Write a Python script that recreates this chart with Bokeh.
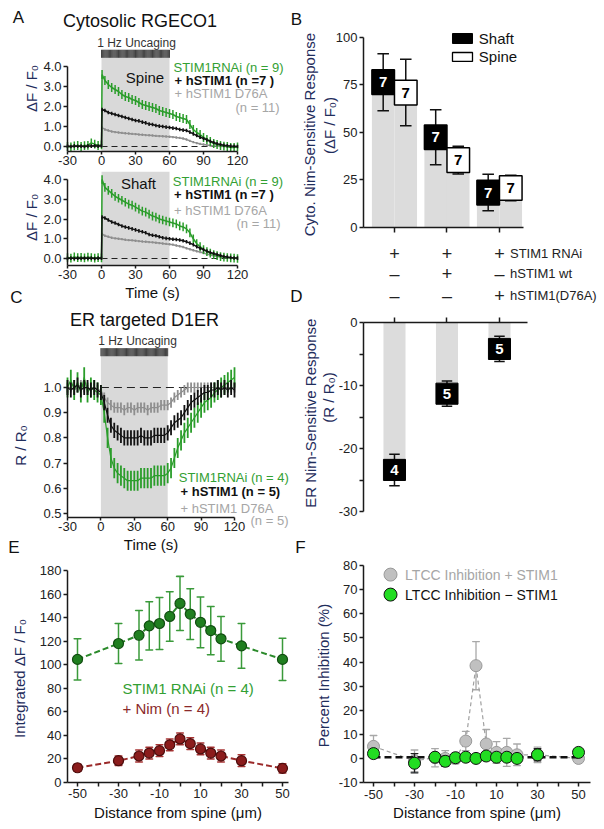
import numpy as np
from bokeh.plotting import figure
from bokeh.layouts import row, column
from bokeh.models import Range1d, FixedTicker, PrintfTickFormatter, Label, ColumnDataSource
from bokeh.core.properties import value
from bokeh.embed import file_html
from bokeh.resources import INLINE

FONT = "Liberation Sans"
AXC = "#1a1a1a"
YLAB = "#1f2d5c"
GREEN = "#2a9d2a"
GREEN_TXT = "#33a033"
GRAY = "#8e8e8e"
GRAY_TXT = "#a6a6a6"
SHADE = "#d9d9d9"

# ---------------- data: panel A (cytosolic RGECO1) ----------------
A_TIME = [-30, -27, -24, -21, -18, -15, -12, -9, -6, -3, 0,
          0.5, 3, 6, 9, 12, 15, 18, 21, 24, 27, 30, 33, 36, 39, 42, 45, 48, 51, 54, 57, 60,
          63, 66, 69, 72, 75, 78, 81, 84, 87, 90, 93, 96, 99, 102, 105, 108, 111, 114, 117, 120]
SPINE_RNAI = [0.0, -0.02, 0.03, 0.05, 0.0, 0.04, 0.06, 0.18, 0.12, 0.05, 0.08,
              3.6, 3.3, 3.1, 2.95, 2.85, 2.75, 2.6, 2.5, 2.45, 2.35, 2.3, 2.2, 2.1, 2.05, 2.0, 1.95,
              1.9, 1.8, 1.75, 1.7, 1.65, 1.6, 1.5, 1.45, 1.4, 1.35, 1.1, 0.85, 0.7, 0.6, 0.45, 0.35,
              0.25, 0.15, 0.1, 0.05, 0.02, 0.0, -0.05, -0.05, -0.02]
SPINE_WT = [0.02, 0.0, 0.03, 0.01, 0.02, 0.0, 0.03, 0.02, 0.04, 0.02, 0.03,
            1.85, 1.8, 1.7, 1.65, 1.6, 1.55, 1.5, 1.45, 1.4, 1.35, 1.3, 1.28, 1.22, 1.18, 1.12, 1.1,
            1.05, 1.02, 1.0, 0.97, 0.95, 0.92, 0.9, 0.85, 0.82, 0.8, 0.72, 0.63, 0.55, 0.47, 0.4,
            0.33, 0.26, 0.2, 0.14, 0.1, 0.06, 0.04, 0.02, 0.01, 0.0]
SPINE_D76A = [0.0, 0.01, 0.0, 0.02, 0.0, 0.01, 0.0, 0.02, 0.01, 0.0, 0.01,
              0.95, 0.85, 0.8, 0.75, 0.72, 0.7, 0.68, 0.66, 0.65, 0.63, 0.62, 0.6, 0.59, 0.57, 0.56,
              0.55, 0.53, 0.52, 0.51, 0.5, 0.49, 0.47, 0.45, 0.43, 0.4, 0.35, 0.28, 0.22, 0.17, 0.13,
              0.1, 0.07, 0.05, 0.03, 0.02, 0.01, 0.0, 0.0, 0.0, 0.0, 0.0]
SHAFT_RNAI = [0.05, 0.02, 0.08, 0.04, 0.06, 0.03, 0.07, 0.05, 0.02, 0.04, 0.03,
              4.0, 3.6, 3.45, 3.3, 3.15, 3.05, 2.95, 2.85, 2.75, 2.7, 2.6, 2.5, 2.4, 2.35, 2.25, 2.15,
              2.1, 2.0, 1.95, 1.9, 1.85, 1.8, 1.75, 1.65, 1.6, 1.5, 1.3, 1.0, 0.75, 0.6, 0.45, 0.35,
              0.27, 0.2, 0.15, 0.1, 0.07, 0.05, 0.03, 0.02, 0.0]
SHAFT_WT = [0.01, 0.02, 0.0, 0.02, 0.01, 0.03, 0.01, 0.02, 0.0, 0.02, 0.01,
            2.1, 2.05, 1.95, 1.85, 1.8, 1.72, 1.65, 1.6, 1.55, 1.5, 1.45, 1.4, 1.35, 1.3, 1.22, 1.18,
            1.15, 1.1, 1.05, 1.02, 1.0, 0.98, 0.96, 0.94, 0.9, 0.85, 0.78, 0.7, 0.6, 0.52, 0.45,
            0.38, 0.3, 0.25, 0.2, 0.15, 0.1, 0.08, 0.05, 0.03, 0.02]
SHAFT_D76A = [0.0, 0.01, 0.02, 0.0, 0.01, 0.0, 0.02, 0.01, 0.0, 0.01, 0.0,
              1.25, 1.15, 1.1, 1.05, 1.02, 1.0, 0.98, 0.95, 0.93, 0.92, 0.9, 0.88, 0.86, 0.85, 0.83,
              0.82, 0.8, 0.78, 0.76, 0.74, 0.72, 0.7, 0.66, 0.62, 0.58, 0.52, 0.47, 0.42, 0.37, 0.33,
              0.28, 0.23, 0.18, 0.14, 0.1, 0.07, 0.05, 0.03, 0.02, 0.01, 0.0]
A_SEM = {"rnai": 0.22, "wt": 0.09, "d76a": 0.06}

# ---------------- data: panel C (ER D1ER) ----------------
C_TIME = [-30, -27, -24, -21, -18, -15, -12, -9, -6, -3, 0, 3, 6, 9, 12, 15, 18, 21, 24, 27, 30,
          33, 36, 39, 42, 45, 48, 51, 54, 57, 60, 63, 66, 69, 72, 75, 78, 81, 84, 87, 90, 93, 96,
          99, 102, 105, 108, 111, 114, 117, 120]
C_RNAI = [1.0, 1.03, 0.99, 1.02, 0.98, 1.04, 0.98, 1.0, 0.99, 0.98,
          0.97, 0.9, 0.8, 0.72, 0.68, 0.66, 0.65, 0.64, 0.63, 0.63, 0.63, 0.63, 0.64, 0.64, 0.64,
          0.64, 0.65, 0.65, 0.65, 0.65, 0.66, 0.68, 0.72, 0.76, 0.79, 0.82, 0.84, 0.86, 0.88, 0.9,
          0.92, 0.94, 0.95, 0.96, 0.98, 0.99, 1.0, 1.01, 1.02, 1.03, 1.04]
C_WT = [1.0, 0.99, 1.0, 1.01, 0.99, 1.0, 1.0, 0.99, 1.0, 0.99,
        0.98, 0.94, 0.89, 0.85, 0.83, 0.82, 0.81, 0.8, 0.8, 0.8, 0.8, 0.8, 0.81, 0.8, 0.8, 0.8,
        0.81, 0.81, 0.81, 0.81, 0.82, 0.84, 0.86, 0.87, 0.88, 0.9, 0.92, 0.94, 0.95, 0.96, 0.97,
        0.98, 0.98, 0.99, 0.99, 1.0, 0.99, 1.0, 0.99, 1.0, 0.99]
C_D76A = [1.0, 1.0, 0.99, 1.0, 1.01, 1.0, 0.99, 1.0, 1.0, 0.99,
          0.99, 0.96, 0.94, 0.93, 0.92, 0.92, 0.92, 0.91, 0.92, 0.92, 0.91, 0.92, 0.92, 0.92, 0.91,
          0.92, 0.92, 0.92, 0.93, 0.93, 0.93, 0.94, 0.96, 0.97, 0.98, 0.99, 1.0, 1.0, 1.0, 1.0,
          1.0, 1.0, 1.0, 1.0, 1.0, 1.0, 1.0, 1.0, 1.0, 1.0, 1.0]
C_NOISE = {"rnai": 0.04, "wt": 0.03, "d76a": 0.02}

STIM_WINDOW = [0, 60]              # uncaging period (s)
UNCAGE_TIMES = list(range(0, 61))  # 1 Hz pulses
BASE_SPAN = [0, 120]

# ---------------- data: panel B ----------------
GROUPS = [1, 2, 3]
B_SHAFT = [76.5, 47.5, 18.4]
B_SHAFT_SEM = [15.0, 14.5, 9.6]
B_SPINE = [71.0, 35.5, 20.8]
B_SPINE_SEM = [17.5, 7.3, 6.7]
B_SHAFT_N = ["7", "7", "7"]
B_SPINE_N = ["7", "7", "7"]
B_ROWS = [("STIM1 RNAi", ["+", "+", "+"]),
          ("hSTIM1 wt", ["\u2013", "+", "\u2013"]),
          ("hSTIM1(D76A)", ["\u2013", "\u2013", "+"])]

# ---------------- data: panel D ----------------
D_MEAN = [-23.4, -11.3, -4.2]
D_SEM = [2.5, 2.0, 2.0]
D_N = ["4", "5", "5"]

# ---------------- data: panel E ----------------
DIST = [-50, -30, -20, -15, -10, -5, 0, 5, 10, 15, 20, 30, 50]
E_RNAI = [104.5, 118, 125, 133, 135, 141, 152, 143, 136, 129, 122, 116, 104.5]
E_RNAI_SEM = [17.5, 17, 21, 20.5, 22, 21, 23, 21.5, 21.5, 20.5, 19, 19, 18]
E_NIM = [12.5, 18.5, 22.5, 25, 27, 32, 37, 33, 28.5, 25, 22.5, 18.5, 12]
E_NIM_SEM = [3, 4, 5, 5, 5, 5, 5, 5, 5, 5, 5, 5, 4]

# ---------------- data: panel F ----------------
F_PLUS = [5.0, -1.0, 0.3, 0.0, 0.0, 7.2, 38.5, 6.0, 2.5, 2.5, 1.5, 1.5, 0.0]
F_PLUS_SEM = [4.5, 4.5, 3.8, 3.2, 2.2, 4.0, 10.0, 6.0, 4.5, 5.8, 4.5, 3.2, 1.5]
F_MINUS = [2.0, -2.0, 0.5, -1.2, 0.3, 0.5, 0.0, 1.0, 0.5, 0.5, 0.0, 1.5, 2.5]
F_MINUS_SEM = [1.5, 4.0, 1.5, 2.0, 1.5, 1.0, 1.0, 1.0, 1.5, 1.5, 1.5, 2.5, 1.0]
F_FIT_X = [-50, 50]
F_FIT_Y = [0.5, 0.5]


# ---------------- helpers ----------------
def make_fig(w, h, xr, yr, xloc="below"):
    p = figure(width=w, height=h, x_range=Range1d(*xr), y_range=Range1d(*yr),
               output_backend="svg", toolbar_location=None, x_axis_location=xloc,
               min_border_left=0, min_border_right=0, min_border_top=0, min_border_bottom=0)
    p.xgrid.visible = False
    p.ygrid.visible = False
    p.outline_line_color = None
    p.background_fill_color = "white"
    p.border_fill_color = "white"
    for ax in (p.xaxis[0], p.yaxis[0]):
        ax.axis_line_color = AXC
        ax.axis_line_width = 1.5
        ax.major_tick_line_color = AXC
        ax.major_tick_line_width = 1.5
        ax.major_tick_in = 0
        ax.major_tick_out = 4
        ax.minor_tick_line_color = None
        ax.major_label_text_font = FONT
        ax.major_label_text_font_size = "13px"
        ax.major_label_text_color = "#222222"
        ax.major_label_standoff = 2
        ax.axis_label_text_font = FONT
        ax.axis_label_text_font_size = "15px"
        ax.axis_label_text_font_style = "normal"
        ax.axis_label_text_color = "#111111"
        ax.axis_label_standoff = 2
    return p


def place_axes(p, x_at, x_bounds, y_at, y_bounds):
    p.xaxis[0].fixed_location = x_at
    p.xaxis[0].bounds = x_bounds
    p.yaxis[0].fixed_location = y_at
    p.yaxis[0].bounds = y_bounds


def txt(p, x, y, text, size=13, color="#111111", align="left", baseline="middle",
        angle=0.0, style="normal"):
    p.add_layout(Label(x=x, y=y, text=text, text_font=FONT, text_font_size=f"{size}px",
                       text_color=color, text_align=align, text_baseline=baseline,
                       angle=angle, text_font_style=style))


def trace(p, t, y, err, color, lw=1.5, elw=1.5):
    lo = [v - err for v in y]
    hi = [v + err for v in y]
    src = ColumnDataSource(dict(t=t, y=y, lo=lo, hi=hi))
    p.segment(x0="t", y0="lo", x1="t", y1="hi", source=src, line_color=color, line_width=elw)
    p.line("t", "y", source=src, line_color=color, line_width=lw)


def stim_marks(p, bottom, shade_top, bar_top):
    p.quad(left=[STIM_WINDOW[0]], right=[STIM_WINDOW[1]], bottom=[bottom], top=[shade_top],
           fill_color=SHADE, line_color=None)
    if bar_top > shade_top:
        p.quad(left=[STIM_WINDOW[0]], right=[STIM_WINDOW[1]], bottom=[shade_top], top=[bar_top],
               fill_color="#b5b5b5", line_color=None)
        p.segment(x0=UNCAGE_TIMES, x1=UNCAGE_TIMES, y0=[shade_top] * len(UNCAGE_TIMES),
                  y1=[bar_top] * len(UNCAGE_TIMES), line_color="#333333", line_width=0.9)


def time_axes(p, yticks, yfmt):
    p.xaxis.ticker = FixedTicker(ticks=[-30, 0, 30, 60, 90, 120])
    p.xaxis.formatter = PrintfTickFormatter(format="%d")
    p.xaxis.major_tick_out = 3
    p.xaxis.major_label_standoff = 1
    p.yaxis.ticker = FixedTicker(ticks=yticks)
    p.yaxis.formatter = PrintfTickFormatter(format=yfmt)


# ---------------- Panel A (top: spine) ----------------
pA1 = make_fig(290, 171, (-89.12, 166.76), (-1.25, 7.3))
time_axes(pA1, [0, 1, 2, 3, 4], "%.1f")
place_axes(pA1, -0.25, (-30, 120), -30, (-0.25, 4))
stim_marks(pA1, -0.25, 4.435, 4.835)
pA1.line(BASE_SPAN, [0, 0], line_color="#222222", line_width=1.2, line_dash="6 4")
trace(pA1, A_TIME, SPINE_D76A, A_SEM["d76a"], GRAY)
trace(pA1, A_TIME, SPINE_RNAI, A_SEM["rnai"], GREEN)
trace(pA1, A_TIME, SPINE_WT, A_SEM["wt"], "#111111")
txt(pA1, -73.2, 6.45, "A", size=17, align="center")
txt(pA1, 34.0, 6.3, "Cytosolic RGECO1", size=18, align="center")
txt(pA1, 30.9, 5.2, "1 Hz Uncaging", size=12, color="#333333", align="center")
txt(pA1, 38.4, 3.43, "Spine", size=15, align="center")
txt(pA1, 63.5, 3.96, "STIM1RNAi (n = 9)", size=13, color=GREEN_TXT)
txt(pA1, 64.4, 3.3, "+ hSTIM1 (n =7 )", size=13, color="#111111", style="bold")
txt(pA1, 64.4, 2.63, "+ hSTIM1 D76A", size=13, color=GRAY_TXT)
txt(pA1, 118.2, 1.97, "(n = 11)", size=13, color=GRAY_TXT)
txt(pA1, -61.8, 2.9, "\u0394F / F\u2080", size=15, color=YLAB, align="center", angle=np.pi / 2)

# ---------------- Panel A (bottom: shaft) ----------------
pA2 = make_fig(290, 137, (-89.12, 166.76), (-2.5312, 4.4056))
time_axes(pA2, [0, 1, 2, 3, 4], "%.1f")
place_axes(pA2, -0.354, (-30, 120), -30, (-0.354, 4))
pA2.xaxis.axis_label = "Time (s)"
stim_marks(pA2, -0.354, 4.4056, 4.4056)
pA2.line(BASE_SPAN, [0, 0], line_color="#222222", line_width=1.2, line_dash="6 4")
trace(pA2, A_TIME, SHAFT_D76A, A_SEM["d76a"], GRAY)
trace(pA2, A_TIME, SHAFT_RNAI, A_SEM["rnai"], GREEN)
trace(pA2, A_TIME, SHAFT_WT, A_SEM["wt"], "#111111")
txt(pA2, 32.6, 3.81, "Shaft", size=15, align="center")
txt(pA2, 62.9, 3.91, "STIM1RNAi (n = 9)", size=13, color=GREEN_TXT)
txt(pA2, 64.0, 3.24, "+ hSTIM1 (n =7 )", size=13, color="#111111", style="bold")
txt(pA2, 64.0, 2.43, "+ hSTIM1 D76A", size=13, color=GRAY_TXT)
txt(pA2, 119.1, 1.76, "(n = 11)", size=13, color=GRAY_TXT)
txt(pA2, -61.8, 2.08, "\u0394F / F\u2080", size=15, color=YLAB, align="center", angle=np.pi / 2)
txt(pA2, -75.0, -1.97, "C", size=17, align="center")

# ---------------- Panel C ----------------
pC = make_fig(290, 249, (-90.18, 170.3), (0.3253, 1.3134))
time_axes(pC, [0.5, 0.6, 0.7, 0.8, 0.9, 1.0], "%.1f")
place_axes(pC, 0.484, (-30, 120), -30, (0.484, 1.0))
pC.xaxis.axis_label = "Time (s)"
stim_marks(pC, 0.484, 1.124, 1.156)
pC.line(BASE_SPAN, [1.0, 1.0], line_color="#222222", line_width=1.2, line_dash="8 5")
trace(pC, C_TIME, C_D76A, C_NOISE["d76a"], GRAY, lw=1.2, elw=1.8)
trace(pC, C_TIME, C_RNAI, C_NOISE["rnai"], GREEN, lw=1.2, elw=1.8)
trace(pC, C_TIME, C_WT, C_NOISE["wt"], "#111111", lw=1.2, elw=1.8)
txt(pC, 39.1, 1.2697, "ER targeted D1ER", size=18, align="center")
txt(pC, 32.9, 1.186, "1 Hz Uncaging", size=12, color="#333333", align="center")
txt(pC, 69.9, 0.643, "STIM1RNAi (n = 4)", size=13, color=GREEN_TXT)
txt(pC, 71.5, 0.587, "+ hSTIM1 (n = 5)", size=13, color="#111111", style="bold")
txt(pC, 71.5, 0.519, "+ hSTIM1 D76A", size=13, color=GRAY_TXT)
txt(pC, 134.4, 0.472, "(n = 5)", size=13, color=GRAY_TXT)
txt(pC, -72.2, 0.77, "R / R\u2080", size=15, color=YLAB, align="center", angle=np.pi / 2)
txt(pC, -78.05, 0.365, "E", size=17, align="center")

# ---------------- Panel E ----------------
pE = make_fig(290, 271, (-87.56, 53.9), (-39.06, 191.03))
place_axes(pE, 0, (-54.88, 52.93), -54.88, (0, 180))
pE.xaxis.ticker = FixedTicker(ticks=[-50, -30, -10, 10, 30, 50], minor_ticks=[-40, -20, 0, 20, 40])
pE.xaxis.formatter = PrintfTickFormatter(format="%d")
pE.xaxis.minor_tick_line_color = AXC
pE.xaxis.minor_tick_line_width = 1.5
pE.xaxis.minor_tick_in = 0
pE.xaxis.minor_tick_out = 4
pE.xaxis.major_label_standoff = 3
pE.xaxis.axis_label = "Distance from spine (\u03bcm)"
pE.yaxis.ticker = FixedTicker(ticks=list(range(0, 181, 20)))
pE.yaxis.formatter = PrintfTickFormatter(format="%d")
for mean, sem, line_c, err_c, fill_c, edge_c in [
        (E_RNAI, E_RNAI_SEM, "#2b8a2b", "#3a9a3a", "#1f7f1f", "#114d11"),
        (E_NIM, E_NIM_SEM, "#9b2a2a", "#a83434", "#8b1c1c", "#4d0d0d")]:
    src = ColumnDataSource(dict(x=DIST, y=mean, lo=[m - s for m, s in zip(mean, sem)],
                                hi=[m + s for m, s in zip(mean, sem)]))
    pE.segment(x0="x", y0="lo", x1="x", y1="hi", source=src, line_color=err_c, line_width=1.5)
    pE.rect(x="x", y="lo", width=3.4, height=0.01, source=src, line_color=err_c, line_width=1.5,
            fill_color=None)
    pE.rect(x="x", y="hi", width=3.4, height=0.01, source=src, line_color=err_c, line_width=1.5,
            fill_color=None)
    pE.line("x", "y", source=src, line_color=line_c, line_width=2, line_dash="6 3")
    pE.scatter("x", "y", source=src, size=10, fill_color=fill_c, line_color=edge_c, line_width=1.2)
txt(pE, -28.05, 79.8, "STIM1 RNAi (n = 4)", size=15, color=GREEN_TXT)
txt(pE, -28.05, 62.8, "+ Nim (n = 4)", size=15, color="#8b2a2a")
txt(pE, -78.3, 88.3, "Integrated \u0394F / F\u2080", size=15, color=YLAB, align="center",
    angle=np.pi / 2)

# ---------------- Panel B ----------------
HW = 0.43
pB = make_fig(313, 308, (-0.9805, 4.9814), (-42.63, 119.47))
place_axes(pB, 0, (0.41, 3.457), 0.41, (0, 100))
pB.xaxis.ticker = FixedTicker(ticks=GROUPS)
pB.xaxis.major_label_text_color = None
pB.xaxis.major_tick_out = 5
pB.yaxis.ticker = FixedTicker(ticks=[0, 25, 50, 75, 100])
pB.yaxis.formatter = PrintfTickFormatter(format="%d")
sh_x = [g - HW / 2 for g in GROUPS]
sp_x = [g + HW / 2 for g in GROUPS]
pB.vbar(x=sh_x, top=B_SHAFT, width=HW, bottom=0, fill_color="#dcdcdc", line_color=None)
pB.vbar(x=sp_x, top=B_SPINE, width=HW, bottom=0, fill_color="#dcdcdc", line_color=None)
BOX_H = 13.0
for xs, mean, sem, fill, tcol, ns in [(sh_x, B_SHAFT, B_SHAFT_SEM, "#000000", "white", B_SHAFT_N),
                                      (sp_x, B_SPINE, B_SPINE_SEM, "#ffffff", "#000000", B_SPINE_N)]:
    lo = [m - s for m, s in zip(mean, sem)]
    hi = [m + s for m, s in zip(mean, sem)]
    pB.segment(x0=xs, y0=lo, x1=xs, y1=hi, line_color="#111111", line_width=1.5)
    pB.segment(x0=[x - 0.11 for x in xs], y0=hi, x1=[x + 0.11 for x in xs], y1=hi,
               line_color="#111111", line_width=1.5)
    pB.segment(x0=[x - 0.11 for x in xs], y0=lo, x1=[x + 0.11 for x in xs], y1=lo,
               line_color="#111111", line_width=1.5)
    pB.rect(x=xs, y=mean, width=HW, height=BOX_H, fill_color=fill, line_color="#000000",
            line_width=1.5)
    pB.text(x=xs, y=mean, text=ns, text_color=tcol, text_font=value(FONT),
            text_font_size="15px", text_font_style="bold", text_align="center",
            text_baseline="middle")
# legend
LEG_X = [2.105, 2.486]
pB.quad(left=[LEG_X[0]], right=[LEG_X[1]], bottom=[96.84], top=[102.1], fill_color="#000000",
        line_color="#000000")
pB.quad(left=[LEG_X[0]], right=[LEG_X[1]], bottom=[87.4], top=[92.1],
        fill_color="#ffffff", line_color="#000000", line_width=1.3)
txt(pB, 2.606, 99.3, "Shaft", size=15)
txt(pB, 2.606, 90.0, "Spine", size=15)
txt(pB, -0.866, 109.5, "B", size=17, align="center")
txt(pB, -0.62, 48.9, "Cyto. Nim-Sensitive Response", size=15, color=YLAB, align="center",
    angle=np.pi / 2)
txt(pB, -0.24, 53.7, "(\u0394F / F\u2080)", size=15, color=YLAB, align="center", angle=np.pi / 2)
for (name, signs), yv in zip(B_ROWS, [-13.8, -24.4, -35.8]):
    for g, s in zip(GROUPS, signs):
        txt(pB, g, yv, s, size=18, color="#222222", align="center")
    txt(pB, 3.2, yv, name, size=13, color="#222222")
txt(pB, -0.866, -36.3, "D", size=17, align="center")

# ---------------- Panel D ----------------
pD = make_fig(313, 249, (-0.9805, 4.9814), (-37.3, 2.222), xloc="above")
place_axes(pD, 0, (0.41, 3.53), 0.41, (-30, 0))
pD.xaxis.ticker = FixedTicker(ticks=GROUPS)
pD.xaxis.major_label_text_color = None
pD.xaxis.major_tick_out = 5
pD.yaxis.ticker = FixedTicker(ticks=[0, -10, -20, -30], minor_ticks=[-5, -15, -25])
pD.yaxis.formatter = PrintfTickFormatter(format="%d")
pD.yaxis.minor_tick_line_color = AXC
pD.yaxis.minor_tick_line_width = 1.5
pD.yaxis.minor_tick_in = 0
pD.yaxis.minor_tick_out = 4
DW = 0.42
pD.vbar(x=GROUPS, top=0, bottom=D_MEAN, width=DW, fill_color="#dcdcdc", line_color=None)
d_lo = [m - s for m, s in zip(D_MEAN, D_SEM)]
d_hi = [m + s for m, s in zip(D_MEAN, D_SEM)]
pD.segment(x0=GROUPS, y0=d_lo, x1=GROUPS, y1=d_hi, line_color="#111111", line_width=1.5)
pD.segment(x0=[g - 0.1 for g in GROUPS], y0=d_hi, x1=[g + 0.1 for g in GROUPS], y1=d_hi,
           line_color="#111111", line_width=1.5)
pD.segment(x0=[g - 0.1 for g in GROUPS], y0=d_lo, x1=[g + 0.1 for g in GROUPS], y1=d_lo,
           line_color="#111111", line_width=1.5)
pD.rect(x=GROUPS, y=D_MEAN, width=DW, height=3.35, fill_color="#000000", line_color="#000000")
pD.text(x=GROUPS, y=D_MEAN, text=D_N, text_color="white", text_font=value(FONT),
        text_font_size="15px", text_font_style="bold", text_align="center", text_baseline="middle")
txt(pD, -0.6, -14.4, "ER Nim-Sensitive Response", size=15, color=YLAB, align="center",
    angle=np.pi / 2)
txt(pD, -0.257, -11.9, "(R / R\u2080)", size=15, color=YLAB, align="center", angle=np.pi / 2)
txt(pD, -0.79, -35.71, "F", size=17, align="center")

# ---------------- Panel F ----------------
pF = make_fig(313, 271, (-90.49, 62.19), (-29.09, 83.40))
place_axes(pF, -10, (-54.88, 55.85), -54.88, (-10, 80))
pF.xaxis.ticker = FixedTicker(ticks=[-50, -30, -10, 10, 30, 50], minor_ticks=[-40, -20, 0, 20, 40])
pF.xaxis.formatter = PrintfTickFormatter(format="%d")
pF.xaxis.minor_tick_line_color = AXC
pF.xaxis.minor_tick_line_width = 1.5
pF.xaxis.minor_tick_in = 0
pF.xaxis.minor_tick_out = 4
pF.xaxis.major_label_standoff = 3
pF.xaxis.axis_label = "Distance from spine (\u03bcm)"
pF.yaxis.ticker = FixedTicker(ticks=list(range(-10, 81, 10)))
pF.yaxis.formatter = PrintfTickFormatter(format="%d")

srcP = ColumnDataSource(dict(x=DIST, y=F_PLUS, lo=[m - s for m, s in zip(F_PLUS, F_PLUS_SEM)],
                             hi=[m + s for m, s in zip(F_PLUS, F_PLUS_SEM)]))
srcM = ColumnDataSource(dict(x=DIST, y=F_MINUS, lo=[m - s for m, s in zip(F_MINUS, F_MINUS_SEM)],
                             hi=[m + s for m, s in zip(F_MINUS, F_MINUS_SEM)]))
pF.segment(x0="x", y0="lo", x1="x", y1="hi", source=srcP, line_color="#a8a8a8", line_width=1.3)
pF.rect(x="x", y="lo", width=3.4, height=0.01, source=srcP, line_color="#a8a8a8", line_width=1.3)
pF.rect(x="x", y="hi", width=3.4, height=0.01, source=srcP, line_color="#a8a8a8", line_width=1.3)
pF.line("x", "y", source=srcP, line_color="#a0a0a0", line_width=1.2, line_dash="4 3")
pF.scatter("x", "y", source=srcP, size=12, fill_color="#c0c0c0", line_color="#999999",
           line_width=1.0)
pF.line(F_FIT_X, F_FIT_Y, line_color="#111111", line_width=2.5, line_dash="7 4")
pF.segment(x0="x", y0="lo", x1="x", y1="hi", source=srcM, line_color="#222222", line_width=1.3)
pF.rect(x="x", y="lo", width=3.4, height=0.01, source=srcM, line_color="#222222", line_width=1.3)
pF.rect(x="x", y="hi", width=3.4, height=0.01, source=srcM, line_color="#222222", line_width=1.3)
pF.scatter("x", "y", source=srcM, size=12, fill_color="#22dd22", line_color="#111111",
           line_width=1.0)
# legend
LEG_F_X = [-41.7]
pF.scatter(LEG_F_X, [76.3], size=13, fill_color="#c0c0c0", line_color="#999999")
pF.scatter(LEG_F_X, [68.0], size=13, fill_color="#22dd22", line_color="#111111")
txt(pF, -34.6, 76.3, "LTCC Inhibition + STIM1", size=14, color=GRAY_TXT)
txt(pF, -34.6, 68.0, "LTCC Inhibition \u2212 STIM1", size=14, color="#111111")
txt(pF, -74.4, 34.4, "Percent Inhibition (%)", size=15, color=YLAB, align="center",
    angle=np.pi / 2)

left = column(pA1, pA2, pC, pE)
right = column(pB, pD, pF)
layout = row(left, right)

open("out.html", "w").write(file_html(layout, INLINE, title="STIM1 figure"))
